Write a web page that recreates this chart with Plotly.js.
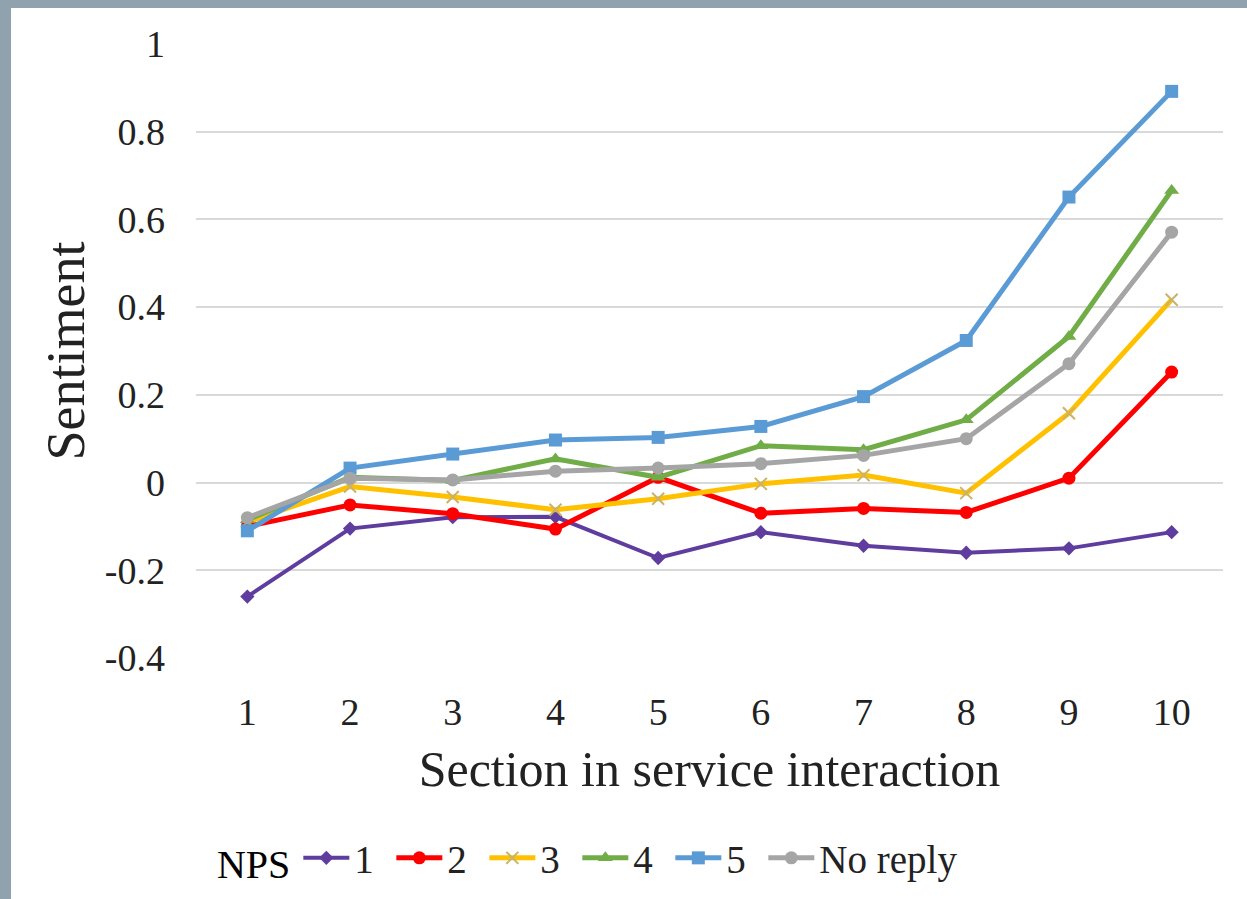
<!DOCTYPE html>
<html>
<head>
<meta charset="utf-8">
<script src="https://cdn.plot.ly/plotly-3.0.1.min.js"></script>
<style>
  html, body { margin: 0; padding: 0; background: #8fa2ad; }
  body { width: 1247px; height: 899px; overflow: hidden; position: relative; }
  #chart { position: absolute; left: 11px; top: 8px; width: 1236px; height: 891px; }
  /* fixed-width legend entries: let the last, longer label run past its slot */
  #chart .legend g.scrollbox { clip-path: none !important; }
</style>
</head>
<body>
<div id="chart"></div>
<script>
// Sections of the service interaction (x categories)
const sections = ['1', '2', '3', '4', '5', '6', '7', '8', '9', '10'];

// Mean sentiment per section, one series per NPS reply
const nps1 = [-0.26, -0.105, -0.079, -0.078, -0.172, -0.113, -0.144, -0.160, -0.150, -0.113];
const nps2 = [-0.10, -0.051, -0.071, -0.106, 0.012, -0.070, -0.059, -0.068, 0.010, 0.252];
const nps3 = [-0.09, -0.009, -0.033, -0.062, -0.037, -0.003, 0.017, -0.024, 0.158, 0.417];
const nps4 = [-0.085, 0.012, 0.005, 0.054, 0.012, 0.084, 0.075, 0.143, 0.333, 0.666];
const nps5 = [-0.110, 0.033, 0.065, 0.097, 0.103, 0.128, 0.196, 0.324, 0.651, 0.892];
const noReply = [-0.080, 0.010, 0.006, 0.026, 0.033, 0.043, 0.062, 0.100, 0.271, 0.571];

const seriesNames = ['1', '2', '3', '4', '5', 'No reply'];

// Y axis ticks
const yTickVals = [1, 0.8, 0.6, 0.4, 0.2, 0, -0.2, -0.4];
const yTickText = ['1', '0.8', '0.6', '0.4', '0.2', '0', '-0.2', '-0.4'];

const FONT = '"Liberation Serif", "Times New Roman", serif';

function series(name, y, color, symbol, size, lineWidth, extraMarker) {
  return {
    type: 'scatter',
    mode: 'lines+markers',
    name: name,
    x: sections,
    y: y,
    line: { color: color, width: lineWidth },
    marker: Object.assign({ color: color, symbol: symbol, size: size }, extraMarker || {}),
    hoverinfo: 'x+y+name'
  };
}

const data = [
  series(seriesNames[0], nps1, '#5f3d9f', 'diamond', 11, 4),
  series(seriesNames[1], nps2, '#ff0000', 'circle', 13, 5),
  series(seriesNames[2], nps3, '#ffc000', 'x-thin', 12, 5, { line: { color: '#c9b26a', width: 2 } }),
  series(seriesNames[3], nps4, '#70ad47', 'triangle-up', 13, 5),
  series(seriesNames[4], nps5, '#5b9bd5', 'square', 13, 5),
  series(seriesNames[5], noReply, '#a5a5a5', 'circle', 13, 5)
];

const layout = {
  width: 1236,
  height: 891,
  paper_bgcolor: '#ffffff',
  plot_bgcolor: '#ffffff',
  margin: { l: 185, r: 24, t: 36, b: 241 },
  font: { family: FONT, color: '#222222', size: 36 },
  showlegend: true,
  xaxis: {
    type: 'category',
    range: [-0.5, 9.5],
    showgrid: false,
    zeroline: false,
    showline: false,
    ticks: '',
    ticklabelstandoff: 28,
    tickfont: { family: FONT, size: 38, color: '#222222' },
    title: { text: 'Section in service interaction', font: { family: FONT, size: 50, color: '#222222' }, standoff: 18 }
  },
  yaxis: {
    range: [-0.4, 1],
    tickvals: yTickVals,
    ticktext: yTickText,
    showgrid: true,
    gridcolor: '#d9d9d9',
    gridwidth: 2,
    zeroline: false,
    showline: false,
    ticks: '',
    ticklabelstandoff: 30,
    tickfont: { family: FONT, size: 38, color: '#222222' },
    title: { text: 'Sentiment', font: { family: FONT, size: 54, color: '#222222' }, standoff: 2 }
  },
  legend: {
    orientation: 'h',
    xref: 'container',
    yref: 'container',
    x: 0.165,
    xanchor: 'left',
    y: 0.046,
    yanchor: 'middle',
    font: { family: FONT, size: 39, color: '#222222' },
    title: { text: 'NPS', font: { family: FONT, size: 40, color: '#000000' }, side: 'left' },
    itemwidth: 46,
    entrywidth: 32,
    entrywidthmode: 'pixels',
    bgcolor: 'rgba(0,0,0,0)'
  }
};

Plotly.newPlot('chart', data, layout, { displayModeBar: false, staticPlot: true });
</script>
</body>
</html>
